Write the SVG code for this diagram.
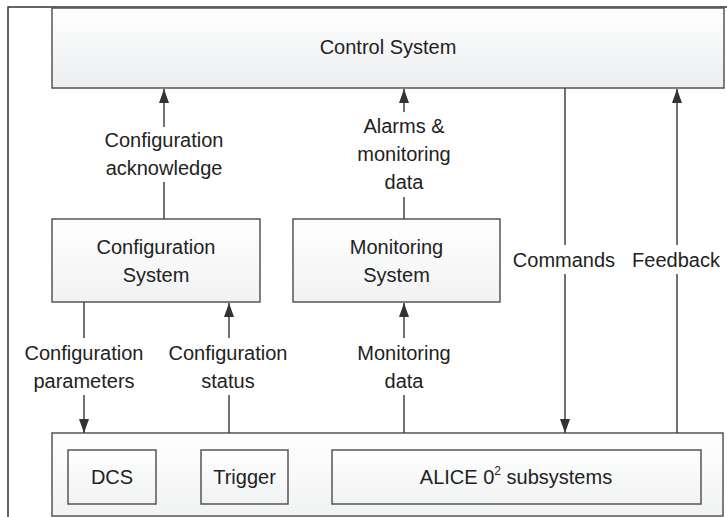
<svg xmlns="http://www.w3.org/2000/svg" width="727" height="517" viewBox="0 0 727 517">
<style>
  .box { stroke: #555; stroke-width: 1.5; }
  .lbl { font-family: "Liberation Sans", Arial, sans-serif; font-size: 20px; fill: #222; text-anchor: middle; }
  .conn { fill: none; stroke: #444; stroke-width: 1.5; }
</style>
<defs>
  <linearGradient id="g1" x1="0" y1="0" x2="0" y2="1">
    <stop offset="0" stop-color="#ffffff"/>
    <stop offset="1" stop-color="#eceef0"/>
  </linearGradient>
  <linearGradient id="g2" x1="0" y1="0" x2="0" y2="1">
    <stop offset="0" stop-color="#ffffff"/>
    <stop offset="1" stop-color="#f1f2f3"/>
  </linearGradient>
  <marker id="arr" viewBox="0 0 14 10" markerWidth="14" markerHeight="10" refX="14" refY="5" orient="auto" markerUnits="userSpaceOnUse">
    <path d="M0,0 L14,5 L0,10 z" fill="#333"/>
  </marker>
</defs>
<rect x="0" y="0" width="727" height="517" fill="#ffffff"/>
<path d="M8 530 V7 H740" fill="none" stroke="#333" stroke-width="1.5"/>

<g id="control-system">
  <rect class="box" x="52" y="8" width="672" height="80" fill="url(#g1)"/>
  <text class="lbl" x="388" y="54">Control System</text>
</g>

<g id="configuration-system">
  <rect class="box" x="52" y="219" width="208" height="83" fill="url(#g2)"/>
  <text class="lbl" x="156" y="254">Configuration</text>
  <text class="lbl" x="156" y="282">System</text>
</g>

<g id="monitoring-system">
  <rect class="box" x="293" y="219" width="207" height="83" fill="url(#g2)"/>
  <text class="lbl" x="396.5" y="254">Monitoring</text>
  <text class="lbl" x="396.5" y="282">System</text>
</g>

<g id="subsystems-container">
  <rect class="box" x="52" y="433" width="671" height="83" fill="url(#g2)"/>
</g>
<g id="dcs">
  <rect class="box" x="68" y="450" width="88" height="54" fill="url(#g2)"/>
  <text class="lbl" x="112" y="484">DCS</text>
</g>
<g id="trigger">
  <rect class="box" x="201" y="450" width="87" height="54" fill="url(#g2)"/>
  <text class="lbl" x="244.5" y="484">Trigger</text>
</g>
<g id="alice-subsystems">
  <rect class="box" x="332" y="450" width="369" height="54" fill="url(#g2)"/>
  <text class="lbl" x="516" y="484">ALICE 0<tspan font-size="12" dy="-9">2</tspan><tspan dy="9"> subsystems</tspan></text>
</g>

<g id="connectors">
  <path class="conn" d="M164 219 V182 M164 127 V89" marker-end="url(#arr)"/>
  <path class="conn" d="M404 219 V197 M404 112 V89" marker-end="url(#arr)"/>
  <path class="conn" d="M565 88 V245 M565 274 V433" marker-end="url(#arr)"/>
  <path class="conn" d="M677 433 V274 M677 245 V89" marker-end="url(#arr)"/>
  <path class="conn" d="M84 302 V338 M84 395 V433" marker-end="url(#arr)"/>
  <path class="conn" d="M229 433 V395 M229 338 V303" marker-end="url(#arr)"/>
  <path class="conn" d="M404 433 V395 M404 338 V303" marker-end="url(#arr)"/>
</g>

<g id="labels">
  <text class="lbl" x="164" y="147">Configuration</text>
  <text class="lbl" x="164" y="175">acknowledge</text>
  <text class="lbl" x="404" y="133">Alarms &amp;</text>
  <text class="lbl" x="404" y="161">monitoring</text>
  <text class="lbl" x="404" y="189">data</text>
  <text class="lbl" x="564" y="267">Commands</text>
  <text class="lbl" x="676" y="267">Feedback</text>
  <text class="lbl" x="84" y="360">Configuration</text>
  <text class="lbl" x="84" y="388">parameters</text>
  <text class="lbl" x="228" y="360">Configuration</text>
  <text class="lbl" x="228" y="388">status</text>
  <text class="lbl" x="404" y="360">Monitoring</text>
  <text class="lbl" x="404" y="388">data</text>
</g>
</svg>
